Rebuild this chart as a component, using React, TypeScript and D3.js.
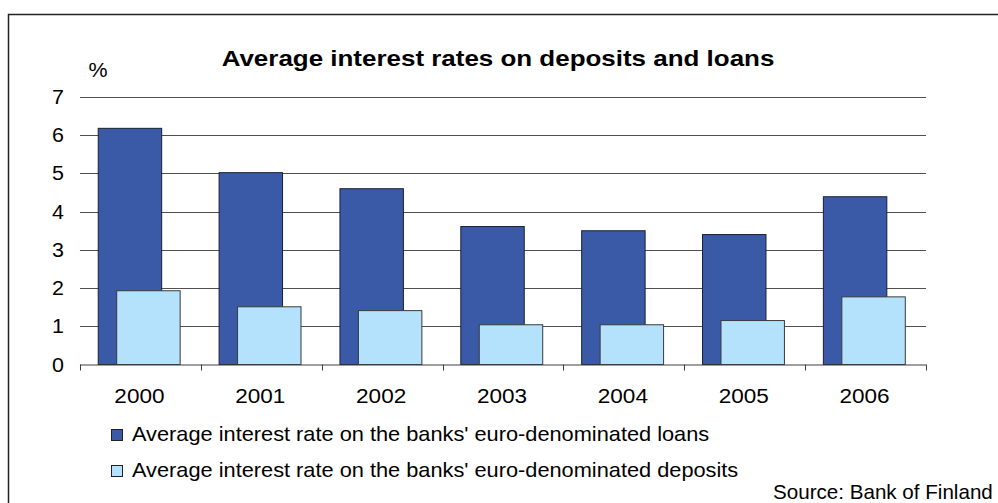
import React from "react";
import * as d3 from "d3";

const years = ["2000", "2001", "2002", "2003", "2004", "2005", "2006"];
const loans = [6.18, 5.02, 4.6, 3.61, 3.5, 3.4, 4.39];
const deposits = [1.93, 1.51, 1.41, 1.04, 1.04, 1.15, 1.77];
const yTicks = [0, 1, 2, 3, 4, 5, 6, 7];
const title = "Average interest rates on deposits and loans";
const legendLabels = [
  "Average interest rate on the banks' euro-denominated loans",
  "Average interest rate on the banks' euro-denominated deposits",
];
const source = "Source: Bank of Finland";

const W = 998;
const H = 503;
const left = 80;
const right = 926;
const yTop = 97;
const yBottom = 364.5;
const loanColor = "#3A5AA8";
const depColor = "#B4E2FC";
const font = "'Liberation Sans', Arial, sans-serif";
const SX = 1.1;

export default function App() {
  const x = d3.scaleBand<string>().domain(years).range([left, right]).padding(0);
  const y = d3.scaleLinear().domain([0, 7]).range([yBottom, yTop]);
  const band = x.bandwidth();
  const bw = band * 0.525;

  const stretched = (tx: number, ty: number, sx: number) =>
    `translate(${tx},${ty}) scale(${sx},1)`;

  return (
    <svg
      width={W}
      height={H}
      style={{ position: "absolute", left: 0, top: 0, background: "#fff" }}
      fontFamily={font}
    >
      <rect x={0} y={0} width={W} height={H} fill="#fff" />
      <rect x={8.5} y={14.5} width={1200} height={800} fill="none" stroke="#222" strokeWidth={1.5} />

      {/* title */}
      <text
        transform={stretched(498, 66, 1.18)}
        textAnchor="middle"
        fontSize={22}
        fontWeight="bold"
        fill="#000"
      >
        {title}
      </text>

      {/* % unit */}
      <text transform={stretched(98, 77, SX)} textAnchor="middle" fontSize={19.5} fill="#000">
        %
      </text>

      {/* gridlines */}
      {yTicks.filter((t) => t > 0).map((t) => (
        <line
          key={"g" + t}
          x1={left}
          x2={right}
          y1={Math.round(y(t)) + 0.5}
          y2={Math.round(y(t)) + 0.5}
          stroke="#505050"
          strokeWidth={1}
        />
      ))}

      {/* y tick labels */}
      {yTicks.map((t) => (
        <text
          key={"yl" + t}
          transform={stretched(64, y(t) + 7, SX)}
          textAnchor="end"
          fontSize={19.5}
          fill="#000"
        >
          {t}
        </text>
      ))}

      {/* bars */}
      {years.map((yr, i) => {
        const c = (x(yr) as number) + band / 2;
        const lx = c - bw * 0.665;
        const dx = c - bw * 0.374;
        return (
          <g key={"b" + yr}>
            <rect
              x={lx}
              y={y(loans[i])}
              width={bw}
              height={y(0) - y(loans[i])}
              fill={loanColor}
              stroke="#1b1f33"
              strokeWidth={1}
            />
            <rect
              x={dx}
              y={y(deposits[i])}
              width={bw}
              height={y(0) - y(deposits[i])}
              fill={depColor}
              stroke="#3a3a3a"
              strokeWidth={1}
            />
          </g>
        );
      })}

      {/* x axis */}
      <line x1={left} x2={right} y1={yBottom + 0.5} y2={yBottom + 0.5} stroke="#404040" strokeWidth={1.2} />
      {[...years.map((yr) => x(yr) as number), right].map((tx, i) => (
        <line
          key={"t" + i}
          x1={Math.round(tx) + 0.5}
          x2={Math.round(tx) + 0.5}
          y1={yBottom}
          y2={yBottom + 6}
          stroke="#404040"
          strokeWidth={1}
        />
      ))}
      {years.map((yr) => (
        <text
          key={"xl" + yr}
          transform={stretched((x(yr) as number) + band / 2 - 1, 403, SX)}
          textAnchor="middle"
          fontSize={20.5}
          fill="#000"
        >
          {yr}
        </text>
      ))}

      {/* legend */}
      {legendLabels.map((lab, i) => {
        const by = 441 + i * 36;
        return (
          <g key={"lg" + i}>
            <rect
              x={111.5}
              y={by - 11.5}
              width={11}
              height={11}
              fill={i === 0 ? loanColor : depColor}
              stroke="#222"
              strokeWidth={1}
            />
            <text transform={stretched(132, by, SX)} fontSize={19.8} fill="#000">
              {lab}
            </text>
          </g>
        );
      })}

      {/* source */}
      <text transform={stretched(773, 499, 1.0)} fontSize={20.6} fill="#000">
        {source}
      </text>
    </svg>
  );
}
